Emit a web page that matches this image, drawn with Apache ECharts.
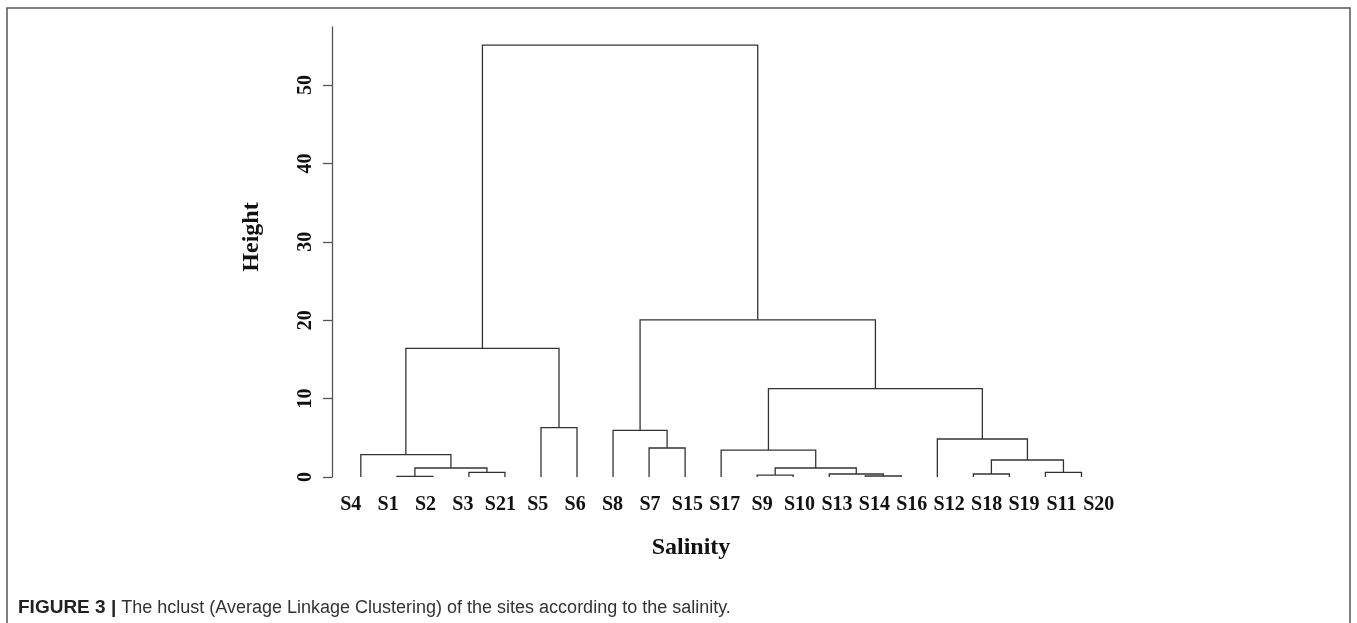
<!DOCTYPE html>
<html>
<head>
<meta charset="utf-8">
<script src="https://cdn.jsdelivr.net/npm/echarts@6/dist/echarts.min.js"></script>
<style>
html,body{margin:0;padding:0;background:#fff;}
#c{width:1357px;height:623px;}
</style>
</head>
<body>
<div id="c"></div>
<script>
// Leaf order (left to right)
const leaves = ['S4','S1','S2','S3','S21','S5','S6','S8','S7','S15','S17','S9','S10','S13','S14','S16','S12','S18','S19','S11','S20'];
// Merges: negative = leaf index (-(i+1)), positive = earlier merge number (1-based)
const mergeLeft  = [-2, -4, 1, -1, -6, 4, -9, -8, -12, -15, -14, 9, -11, -18, -20, 14, -17, 13, 8, 6];
const mergeRight = [-3, -5, 2, 3, -7, 5, -10, 7, -13, -16, 10, 11, 12, -19, -21, 15, 16, 17, 18, 19];
const mergeHeight = [0.08, 0.6, 1.15, 2.85, 6.3, 16.4, 3.7, 5.95, 0.25, 0.13, 0.38, 1.15, 3.44, 0.38, 0.6, 2.17, 4.85, 11.27, 20.05, 55.1];
const yTicks = [0, 10, 20, 30, 40, 50];

const nodeX = [], nodeH = [];
function pos(ref) {
  if (ref < 0) return [-ref - 1, 0];
  return [nodeX[ref - 1], nodeH[ref - 1]];
}
const segs = [];
for (let k = 0; k < mergeHeight.length; k++) {
  const [xl, hl] = pos(mergeLeft[k]);
  const [xr, hr] = pos(mergeRight[k]);
  const h = mergeHeight[k];
  nodeX.push((xl + xr) / 2);
  nodeH.push(h);
  segs.push({coords: [[xl, hl], [xl, h], [xr, h], [xr, hr]]});
}

const serif = '"Liberation Serif", "Times New Roman", serif';
const sans = '"Liberation Sans", Arial, sans-serif';
const chart = echarts.init(document.getElementById('c'), null, {renderer: 'canvas'});
chart.setOption({
  animation: false,
  backgroundColor: '#fff',
  grid: {left: 332, right: 239.5, top: 27, bottom: 146, containLabel: false},
  xAxis: [
    {type: 'value', min: -0.8, max: 21, show: false},
    {type: 'category', data: leaves, position: 'bottom', gridIndex: 0,
     axisLine: {show: false}, axisTick: {show: false},
     axisLabel: {interval: 0, margin: 18, color: '#111', fontFamily: serif, fontWeight: 'bold', fontSize: 20}}
  ],
  yAxis: {
    type: 'value', min: 0, max: 57.4, interval: 10,
    splitLine: {show: false},
    axisLine: {show: true, onZero: false, lineStyle: {color: '#555', width: 1.3}},
    axisTick: {show: true, length: 9, customValues: yTicks, lineStyle: {color: '#555', width: 1.3}},
    axisLabel: {customValues: yTicks, rotate: 90, margin: 16, color: '#111', fontFamily: serif, fontWeight: 'bold', fontSize: 20}
  },
  title: {text: 'Salinity', left: 686, top: 531, textAlign: 'center',
    textStyle: {fontFamily: serif, fontWeight: 'bold', fontSize: 24, color: '#111'}},
  series: [{
    type: 'lines', coordinateSystem: 'cartesian2d', polyline: true,
    xAxisIndex: 0, yAxisIndex: 0,
    lineStyle: {color: '#333', width: 1.3, opacity: 1},
    data: segs, silent: true
  }],
  graphic: [
    {type: 'rect', shape: {x: 7, y: 8, width: 1343, height: 700}, style: {fill: 'none', stroke: '#555', lineWidth: 1.5}, silent: true},
    {type: 'text', x: 252, y: 237, rotation: Math.PI / 2,
     style: {text: 'Height', fontFamily: serif, fontWeight: 'bold', fontSize: 24, fill: '#111', align: 'center', verticalAlign: 'middle'}},
    {type: 'text', x: 18, y: 608,
     style: {text: '{b|FIGURE 3 |} The hclust (Average Linkage Clustering) of the sites according to the salinity.',
       fontFamily: sans, fontSize: 18, fill: '#333', verticalAlign: 'middle',
       rich: {b: {fontFamily: sans, fontWeight: 'bold', fontSize: 19, fill: '#222'}}}}
  ]
});
</script>
</body>
</html>
